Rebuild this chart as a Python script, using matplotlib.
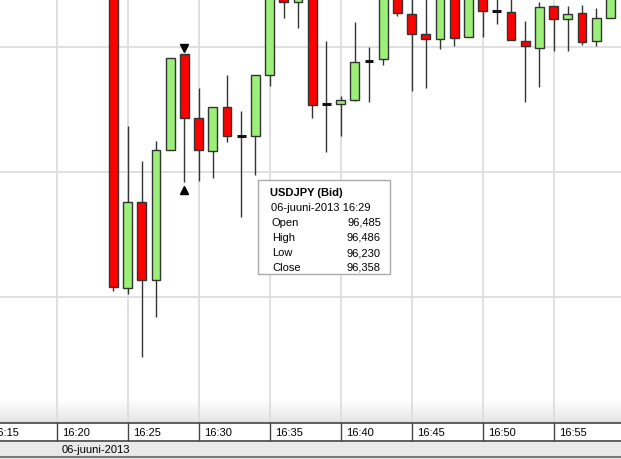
import matplotlib
matplotlib.use("Agg")
import matplotlib.pyplot as plt
import numpy as np

# minutes after 16:00, one candle per minute
minutes = list(range(24, 60))
opens = [96.700, 96.017, 96.189, 96.033, 96.293, 96.485, 96.357, 96.291, 96.379, 96.321,
         96.321, 96.443, 96.640, 96.589, 96.660, 96.385, 96.385, 96.393, 96.471, 96.475,
         96.640, 96.565, 96.525, 96.515, 96.600, 96.519, 96.620, 96.571, 96.569, 96.511,
         96.497, 96.581, 96.555, 96.567, 96.511, 96.557]
highs = [96.710, 96.341, 96.271, 96.311, 96.477, 96.486, 96.417, 96.379, 96.443, 96.371,
         96.443, 96.650, 96.650, 96.660, 96.670, 96.511, 96.401, 96.549, 96.499, 96.650,
         96.650, 96.620, 96.610, 96.605, 96.605, 96.615, 96.625, 96.610, 96.615, 96.551,
         96.589, 96.581, 96.581, 96.583, 96.577, 96.630]
lows = [96.012, 96.005, 95.879, 95.959, 96.293, 96.230, 96.231, 96.237, 96.309, 96.159,
        96.243, 96.421, 96.557, 96.537, 96.357, 96.289, 96.321, 96.391, 96.389, 96.463,
        96.561, 96.411, 96.417, 96.495, 96.501, 96.519, 96.519, 96.545, 96.513, 96.389,
        96.419, 96.491, 96.491, 96.503, 96.501, 96.557]
closes = [96.019, 96.189, 96.033, 96.293, 96.477, 96.358, 96.293, 96.379, 96.321, 96.321,
          96.443, 96.640, 96.589, 96.650, 96.383, 96.385, 96.393, 96.469, 96.471, 96.640,
          96.567, 96.525, 96.515, 96.598, 96.517, 96.610, 96.571, 96.571, 96.513, 96.501,
          96.579, 96.555, 96.565, 96.509, 96.557, 96.620]

tick_minutes = [15, 20, 25, 30, 35, 40, 45, 50, 55]
tick_labels = ["16:%02d" % m for m in tick_minutes]
date_label = "06-juuni-2013"

sel = 29  # highlighted candle (tooltip)
tip_title = "USDJPY (Bid)"
tip_time = "06-juuni-2013 16:29"
tip_names = ["Open", "High", "Low", "Close"]
tip_values = ["96,485", "96,486", "96,230", "96,358"]

W, H = 621, 460
fig = plt.figure(figsize=(W / 100, H / 100), dpi=100)
plt.rcParams['font.family'] = ['Liberation Sans', 'DejaVu Sans']

px_per_min = 14.2
x0 = 20 - 56.6 / px_per_min
x1 = x0 + W / px_per_min
plot_h = 423
y_top = 96.5954
y_bot = y_top - plot_h / 500.0

ax = fig.add_axes([0, (H - plot_h) / H, 1, plot_h / H])
ax.set_facecolor("white")

# light grey gradient near the bottom of the chart panel
t = np.linspace(0.0, 1.0, 50).reshape(-1, 1)
shade = 1.0 - 0.10 * t
grad = np.dstack([shade, shade, shade])
ax.imshow(grad, extent=[0, 1, 0, 23 / plot_h], transform=ax.transAxes, aspect='auto', zorder=0)

for m in tick_minutes:
    ax.axvline(m, color='#dddddd', lw=1.3, zorder=1)
for v in [95.75, 96.0, 96.25, 96.5]:
    ax.axhline(v, color='#dddddd', lw=1.3, zorder=1)

green = '#9cef78'
red = '#ff0000'
edge = '#333333'
bw = 0.63
for m, o, h, l, c in zip(minutes, opens, highs, lows, closes):
    ax.vlines(m, l, h, color=edge, lw=1.0, zorder=2)
    if abs(o - c) < 1e-9:
        ax.hlines(o, m - bw / 2, m + bw / 2, color='#111111', lw=2.2, zorder=3)
    else:
        ax.bar(m, abs(c - o), bottom=min(o, c), width=bw,
               color=green if c > o else red, edgecolor=edge, lw=1.0, zorder=3)

i = minutes.index(sel)
ax.plot(sel, highs[i] + 0.011, marker='v', color='black', ms=5.5, zorder=4)
ax.plot(sel, lows[i] - 0.017, marker='^', color='black', ms=5.5, zorder=4)

ax.set_xlim(x0, x1)
ax.set_ylim(y_bot, y_top)
ax.set_xticks([])
ax.set_yticks([])
for s in ax.spines.values():
    s.set_visible(False)

# tooltip box (figure pixels, top-down)
def fx(x):
    return x / W

def fy(y):
    return 1 - y / H

box = plt.Rectangle((fx(258), fy(275)), fx(390) - fx(258), fy(181) - fy(275),
                    transform=fig.transFigure, facecolor='white', edgecolor='#aaaaaa', lw=1.0, zorder=10)
fig.patches.append(box)
fig.text(fx(270), fy(193), tip_title, fontsize=8, fontweight='bold', va='center', ha='left', zorder=11)
fig.text(fx(271), fy(208), tip_time, fontsize=8, va='center', ha='left', zorder=11)
for k, (nm, val) in enumerate(zip(tip_names, tip_values)):
    yy = 223 + k * 15
    fig.text(fx(272), fy(yy), nm, fontsize=8, va='center', ha='left', zorder=11)
    fig.text(fx(381), fy(yy), val, fontsize=8, va='center', ha='right', zorder=11)

# time axis strip
bx = fig.add_axes([0, 0, 1, (H - plot_h) / H])
bx.set_xlim(x0, x1)
bx.set_ylim(H, plot_h)
bx.axis('off')
bx.fill_between([x0, x1], 442, 460, color='#e9e9e9', zorder=0)
bx.fill_between([x0, x1], 423, 442, color='white', zorder=0)
bx.hlines([423.5, 442], x0, x1, color='#444444', lw=1.2, zorder=2)
bx.hlines(457.5, x0, x1, color='#777777', lw=1.5, zorder=2)
for m, lab in zip(tick_minutes, tick_labels):
    bx.vlines(m, 423, 442, color='#444444', lw=1.0, zorder=2)
    bx.text(m + 5 / px_per_min, 433, lab, fontsize=8, va='center', ha='left', zorder=3)
bx.text(20 + 5 / px_per_min, 450, date_label, fontsize=8, va='center', ha='left', zorder=3)

fig.savefig("out.png", dpi=100)
